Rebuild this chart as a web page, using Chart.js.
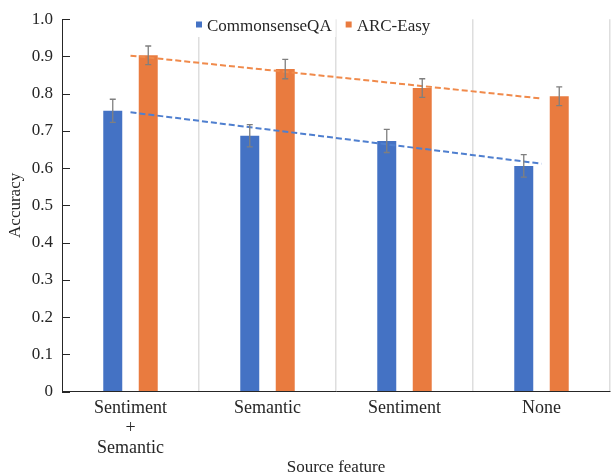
<!DOCTYPE html>
<html lang="en">
<head>
<meta charset="UTF-8">
<title>Accuracy by source feature</title>
<script src="https://cdn.jsdelivr.net/npm/chart.js"></script>
<style>
    html, body { margin: 0; padding: 0; background: #fff; }
    .chart-container { position: relative; width: 613px; height: 476px; }
</style>
</head>
<body>
<div class="chart-container">
    <canvas id="myChart"></canvas>
</div>

<script>
    const categories = [['Sentiment', '+', 'Semantic'], 'Semantic', 'Sentiment', 'None'];
    const seriesNames = ['CommonsenseQA', 'ARC-Easy'];

    const csqa = [0.754, 0.687, 0.673, 0.606];
    const arc = [0.903, 0.866, 0.815, 0.793];

    // error bar half-widths
    const csqaErr = [0.031, 0.030, 0.031, 0.030];
    const arcErr = [0.025, 0.026, 0.025, 0.025];

    // dashed trend lines: only the two ends are drawn, the gap is spanned
    const csqaTrend = [0.750, null, null, 0.612];
    const arcTrend = [0.902, null, null, 0.787];

    const yTicks = [0, 0.1, 0.2, 0.3, 0.4, 0.5, 0.6, 0.7, 0.8, 0.9, 1.0];

    const blue = '#4472C4';
    const orange = '#E97B3F';
    const serif = "'Liberation Serif', 'Times New Roman', serif";
    const ink = '#262626';

    const errorBars = {
        id: 'errorBars',
        afterDatasetsDraw(chart) {
            const ctx = chart.ctx;
            const y = chart.scales.y;
            const errs = [csqaErr, arcErr];
            ctx.save();
            ctx.strokeStyle = '#7f7f7f';
            ctx.lineWidth = 1.3;
            [2, 3].forEach((dsIndex, k) => {
                const meta = chart.getDatasetMeta(dsIndex);
                const vals = chart.data.datasets[dsIndex].data;
                meta.data.forEach((bar, i) => {
                    const top = y.getPixelForValue(vals[i] + errs[k][i]);
                    const bottom = y.getPixelForValue(vals[i] - errs[k][i]);
                    ctx.beginPath();
                    ctx.moveTo(bar.x, top);
                    ctx.lineTo(bar.x, bottom);
                    ctx.moveTo(bar.x - 3, top);
                    ctx.lineTo(bar.x + 3, top);
                    ctx.moveTo(bar.x - 3, bottom);
                    ctx.lineTo(bar.x + 3, bottom);
                    ctx.stroke();
                });
            });
            ctx.restore();
        }
    };

    // small tick marks pointing into the plot, like the original
    const innerTicks = {
        id: 'innerTicks',
        afterDraw(chart) {
            const ctx = chart.ctx;
            const y = chart.scales.y;
            const left = chart.chartArea.left;
            ctx.save();
            ctx.strokeStyle = ink;
            ctx.lineWidth = 1;
            yTicks.forEach(v => {
                const py = Math.round(y.getPixelForValue(v)) + 0.5;
                ctx.beginPath();
                ctx.moveTo(left, py);
                ctx.lineTo(left + 8, py);
                ctx.stroke();
            });
            ctx.restore();
        }
    };

    const legendBox = {
        id: 'legendBox',
        afterDraw(chart) {
            const ctx = chart.ctx;
            const area = chart.chartArea;
            ctx.save();
            ctx.font = '17px ' + serif;
            ctx.textBaseline = 'alphabetic';
            let x = area.left + 134;
            const baseline = 31;
            [blue, orange].forEach((color, i) => {
                const w = ctx.measureText(seriesNames[i]).width;
                ctx.fillStyle = '#fff';
                ctx.fillRect(x - 5, 11, w + 20, 26);
                ctx.fillStyle = color;
                ctx.fillRect(x, 21.5, 6, 6);
                ctx.fillStyle = ink;
                ctx.fillText(seriesNames[i], x + 11, baseline);
                x += 11 + w + 14;
            });
            ctx.restore();
        }
    };

    const data = {
        labels: categories,
        datasets: [{
            type: 'line',
            data: csqaTrend,
            spanGaps: true,
            borderColor: '#4f7fcf',
            borderWidth: 2,
            borderDash: [6, 3],
            pointRadius: 0,
            fill: false,
            order: 1
        }, {
            type: 'line',
            data: arcTrend,
            spanGaps: true,
            borderColor: '#F08A4B',
            borderWidth: 2,
            borderDash: [6, 3],
            pointRadius: 0,
            fill: false,
            order: 1
        }, {
            label: seriesNames[0],
            data: csqa,
            backgroundColor: blue,
            barPercentage: 0.535,
            categoryPercentage: 0.518,
            order: 2
        }, {
            label: seriesNames[1],
            data: arc,
            backgroundColor: orange,
            barPercentage: 0.535,
            categoryPercentage: 0.518,
            order: 2
        }]
    };

    const config = {
        type: 'bar',
        data: data,
        options: {
            responsive: true,
            maintainAspectRatio: false,
            animation: false,
            layout: { padding: { top: 19, right: 3, left: 0, bottom: 0 } },
            plugins: {
                legend: { display: false },
                tooltip: { enabled: false }
            },
            scales: {
                x: {
                    offset: true,
                    grid: {
                        offset: true,
                        drawTicks: false,
                        lineWidth: 1.5,
                        color: c => (c.index === 0 || c.index === categories.length) ? 'rgba(0,0,0,0)' : '#dedede'
                    },
                    border: { color: ink, width: 1 },
                    ticks: {
                        color: ink,
                        padding: 7,
                        maxRotation: 0,
                        autoSkip: false,
                        font: { family: serif, size: 18, lineHeight: 1.1 }
                    },
                    title: {
                        display: true,
                        text: 'Source feature',
                        color: ink,
                        padding: { top: 0, bottom: 0 },
                        font: { family: serif, size: 17, lineHeight: 1.0 }
                    },
                    afterFit: s => { s.height = 84.5; }
                },
                y: {
                    min: 0,
                    max: 1,
                    afterBuildTicks: s => { s.ticks = yTicks.map(v => ({ value: v })); },
                    ticks: {
                        color: ink,
                        padding: 9,
                        font: { family: serif, size: 17 },
                        callback: v => v === 0 ? '0' : v.toFixed(1)
                    },
                    grid: { drawOnChartArea: false, drawTicks: false },
                    border: { color: ink, width: 1 },
                    title: {
                        display: true,
                        text: 'Accuracy',
                        color: ink,
                        padding: { top: 5, bottom: 0 },
                        font: { family: serif, size: 17 }
                    },
                    afterFit: s => { s.width = 62; }
                }
            }
        },
        plugins: [errorBars, innerTicks, legendBox]
    };

    const myChart = new Chart(document.getElementById('myChart'), config);
</script>
</body>
</html>
